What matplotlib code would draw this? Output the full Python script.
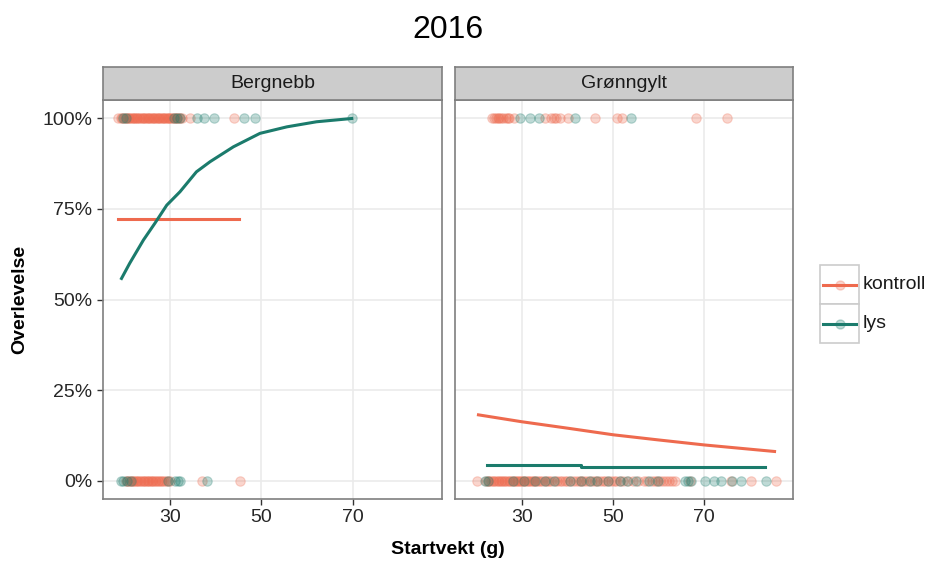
import matplotlib.pyplot as plt
from matplotlib.patches import Rectangle
from matplotlib.lines import Line2D
from matplotlib.ticker import FuncFormatter

plt.rcParams['font.family'] = ['Liberation Sans', 'DejaVu Sans']

# --- data ---
panels = ["Bergnebb", "Grønngylt"]
groups = ["kontroll", "lys"]
colors = {"kontroll": "#EE6A4E", "lys": "#1B7B6C"}

# raw observations (startvekt, survived 0/1)
berg_kontroll_alive = [18.6, 19.2, 19.5, 19.9, 20.2, 20.5, 20.8, 21.1, 21.3, 21.6, 21.9,
                       22.2, 22.4, 22.7, 22.9, 23.2, 23.5, 23.8, 24.0, 24.3, 24.6, 24.9,
                       25.1, 25.4, 25.7, 26.0, 26.2, 26.5, 26.8, 27.1, 27.3, 27.6, 27.9,
                       28.2, 28.4, 28.7, 29.0, 29.3, 29.6, 29.9, 30.1, 30.4, 30.7, 31.0,
                       31.3, 31.6, 32.0, 32.3, 32.6, 34.5, 44.0]
berg_lys_alive = [19.8, 20.4, 30.9, 31.5, 32.2, 36.0, 37.4, 39.6, 46.2, 48.7, 69.8]
berg_kontroll_dead = [20.3, 20.7, 21.0, 21.3, 21.6, 21.9, 22.2, 22.5, 22.8, 23.1, 23.4,
                      23.7, 24.0, 24.3, 24.6, 24.9, 25.2, 25.5, 25.8, 26.1, 26.4, 26.7,
                      27.0, 27.3, 27.6, 28.0, 28.3, 28.8, 29.2, 29.6, 30.0, 37.1, 45.4]
berg_lys_dead = [19.2, 19.7, 20.5, 21.4, 29.5, 31.0, 31.8, 32.3, 38.1]

gron_kontroll_alive = [23.5, 24.0, 24.3, 24.7, 25.0, 25.4, 25.8, 26.5, 27.0, 27.3, 28.3,
                       35.2, 36.5, 37.0, 37.5, 38.5, 40.2, 46.1, 50.9, 52.0, 68.2, 75.1]
gron_lys_alive = [29.7, 31.9, 33.7, 41.8, 53.9]
gron_kontroll_dead = [20.1, 22.2, 22.6, 22.9, 23.3, 23.6, 24.0, 24.3, 24.7, 25.0, 25.4,
                      25.7, 26.1, 26.4, 26.8, 27.1, 27.5, 27.8, 28.2, 28.5, 28.9, 29.2,
                      29.6, 29.9, 30.3, 30.6, 31.0, 31.3, 31.7, 32.0, 32.4, 32.8, 33.2,
                      33.6, 34.0, 34.4, 35.0, 35.5, 36.0, 36.5, 37.2, 37.8, 38.4, 38.9,
                      39.5, 40.0, 40.6, 41.2, 41.9, 42.5, 43.0, 43.5, 44.2, 44.8, 45.4,
                      46.0, 46.6, 47.2, 47.8, 48.3, 48.9, 49.5, 50.2, 50.8, 51.5, 52.3,
                      53.4, 54.5, 55.6, 56.8, 57.6, 58.5, 59.2, 59.8, 60.4, 61.0, 61.6,
                      62.3, 63.0, 63.6, 67.0, 76.0, 80.4, 85.9]
gron_lys_dead = [22.0, 22.6, 28.0, 30.5, 33.0, 35.0, 37.0, 40.5, 43.0, 45.0, 46.5, 49.0,
                 51.5, 53.0, 55.0, 58.0, 60.0, 65.8, 66.4, 67.2, 70.2, 72.3, 73.8, 76.2,
                 78.2, 83.7]

# fitted survival curves
berg_kontroll_fit_x = [18.6, 45.1]
berg_kontroll_fit_y = [0.721, 0.721]
berg_lys_fit_x = [19.4, 21.2, 24.2, 26.7, 29.3, 32.2, 35.8, 38.8, 43.9, 49.7, 55.6, 62.1, 69.8]
berg_lys_fit_y = [0.558, 0.600, 0.664, 0.710, 0.760, 0.797, 0.852, 0.880, 0.921, 0.958,
                  0.976, 0.990, 0.999]
gron_kontroll_fit_x = [20.5, 30.0, 40.2, 50.1, 59.9, 70.1, 85.5]
gron_kontroll_fit_y = [0.182, 0.163, 0.145, 0.127, 0.113, 0.099, 0.081]
gron_lys_fit_x = [22.3, 43.1, 83.3]
gron_lys_fit_y = [0.044, 0.039, 0.039]

x_ticks = [30, 50, 70]
y_ticks = [0, 0.25, 0.5, 0.75, 1.0]

panel_data = {
    "Bergnebb": {
        "kontroll": (berg_kontroll_alive, berg_kontroll_dead, berg_kontroll_fit_x, berg_kontroll_fit_y),
        "lys": (berg_lys_alive, berg_lys_dead, berg_lys_fit_x, berg_lys_fit_y),
    },
    "Grønngylt": {
        "kontroll": (gron_kontroll_alive, gron_kontroll_dead, gron_kontroll_fit_x, gron_kontroll_fit_y),
        "lys": (gron_lys_alive, gron_lys_dead, gron_lys_fit_x, gron_lys_fit_y),
    },
}

W, H = 933, 561
fig = plt.figure(figsize=(W / 100, H / 100), dpi=100)


def px_rect(x0, y0, x1, y1):
    # pixel box (top-left origin) -> figure fraction
    return [x0 / W, 1 - y1 / H, (x1 - x0) / W, (y1 - y0) / H]


border = "#7F7F7F"
grid_col = "#EBEBEB"
fs = 14

panel_x = [(103, 442), (455, 793)]
for i, name in enumerate(panels):
    x0, x1 = panel_x[i]
    ax = fig.add_axes(px_rect(x0, 100, x1, 499))
    ax.set_xlim(15.35, 89.55)
    ax.set_ylim(-0.05, 1.05)
    ax.set_xticks(x_ticks)
    ax.set_yticks(y_ticks)
    ax.grid(True, color=grid_col, lw=1.2, zorder=0)
    ax.set_axisbelow(True)
    for s in ax.spines.values():
        s.set_color(border)
        s.set_linewidth(1.2)
    ax.tick_params(length=4, width=1, color="#333333", labelsize=fs, labelcolor="#262626")
    if i == 0:
        ax.yaxis.set_major_formatter(FuncFormatter(lambda v, p: f"{int(round(v * 100))}%"))
        ax.set_ylabel("Overlevelse", fontsize=fs, fontweight="bold", labelpad=10)
    else:
        ax.tick_params(axis="y", left=False, labelleft=False)

    for g in groups:
        alive, dead, fx, fy = panel_data[name][g]
        c = colors[g]
        ax.scatter(alive, [1.0] * len(alive), s=46, color=c, alpha=0.28, lw=0.8, zorder=2)
        ax.scatter(dead, [0.0] * len(dead), s=46, color=c, alpha=0.28, lw=0.8, zorder=2)
        if g == "lys" and name == "Grønngylt":
            ax.plot(fx, fy, color=c, lw=2.2, drawstyle="steps-post", zorder=3)
        else:
            ax.plot(fx, fy, color=c, lw=2.2, zorder=3)

    # strip
    sax = fig.add_axes(px_rect(x0, 67, x1, 100))
    sax.set_facecolor("#CCCCCC")
    sax.set_xticks([])
    sax.set_yticks([])
    for s in sax.spines.values():
        s.set_color(border)
        s.set_linewidth(1.2)
    sax.text(0.5, 0.5, name, ha="center", va="center", fontsize=fs, color="#1A1A1A",
             transform=sax.transAxes)

fig.text(448 / W, 1 - 30 / H, "2016", ha="center", va="center", fontsize=23)
fig.text(448 / W, 1 - 549 / H, "Startvekt (g)", ha="center", va="center",
         fontsize=fs, fontweight="bold")

# legend
lax = fig.add_axes(px_rect(815, 260, 933, 350))
lax.set_xlim(815, 933)
lax.set_ylim(350, 260)
lax.axis("off")
for k, g in enumerate(groups):
    top = 265 + k * 39
    lax.add_patch(Rectangle((820, top), 39, 39, facecolor="white", edgecolor="#CCCCCC", lw=1.2))
    cy = top + 19.5
    lax.add_line(Line2D([823, 856], [cy, cy], color=colors[g], lw=2.2))
    lax.plot([839.5], [cy], "o", ms=6.5, color=colors[g], alpha=0.28)
    lax.text(863, cy, g, ha="left", va="center", fontsize=fs, color="#1A1A1A")

fig.savefig("out.png", dpi=100)
